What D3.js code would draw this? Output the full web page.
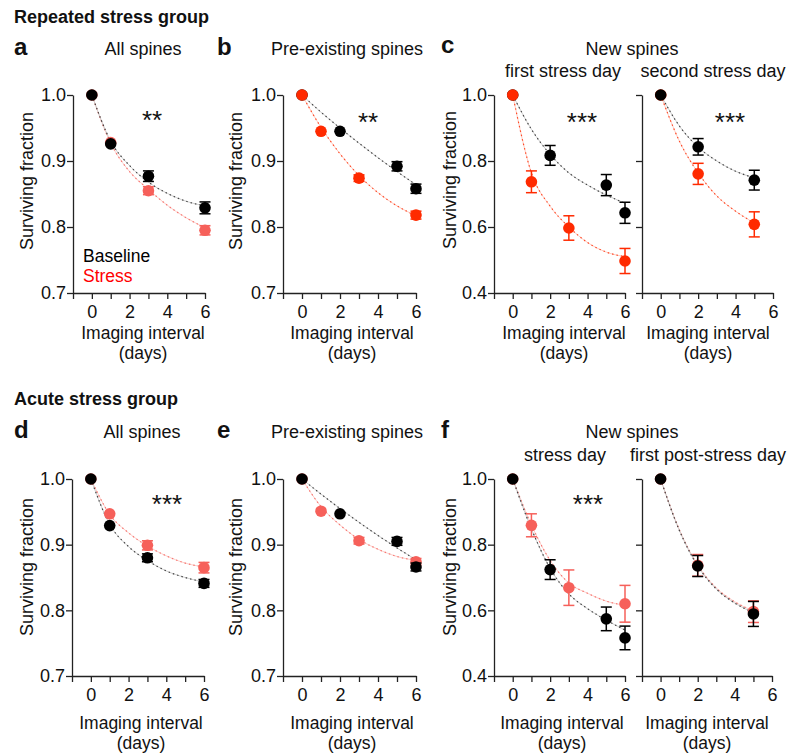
<!DOCTYPE html>
<html><head><meta charset="utf-8">
<script src="https://cdn.jsdelivr.net/npm/d3@7"></script>
<style>html,body{margin:0;padding:0;background:#fff}svg{display:block}text{font-family:"Liberation Sans",Arial,sans-serif}</style>
</head><body><svg id="chart" width="790" height="756"></svg>
<script>
// ---------- DATA ----------
const fitDays6 = [0,1,2,3,4,5,6];
const fitDays5 = [0,1,2,3,4,5];
const xTickValues = [-1,0,1,2,3,4,5,6];
const xTickLabels = [0,2,4,6];
const yTicksAll = [0.7,0.8,0.9,1.0];
const yTicksNew = [0.4,0.6,0.8,1.0];
const legendLabels = ["Baseline","Stress"];

// a: repeated, all spines
const a_base_days = [0,1,3,6];     const a_base = [1.0,0.926,0.877,0.829];   const a_base_err = [0,0.004,0.008,0.009];
const a_stress_days = [0,1,3,6];   const a_stress = [1.0,0.928,0.855,0.795]; const a_stress_err = [0,0.004,0.006,0.007];
const a_base_fit = [1.0,0.930,0.893,0.868,0.851,0.839,0.832];
const a_stress_fit = [1.0,0.927,0.884,0.857,0.833,0.814,0.799];
// b: repeated, pre-existing
const b_base_days = [0,2,5,6];     const b_base = [1.0,0.945,0.892,0.858];   const b_base_err = [0,0.003,0.007,0.007];
const b_stress_days = [0,1,3,6];   const b_stress = [1.0,0.945,0.874,0.818]; const b_stress_err = [0,0.003,0.005,0.006];
const b_base_fit = [1.0,0.974,0.950,0.927,0.905,0.884,0.864];
const b_stress_fit = [1.0,0.951,0.911,0.878,0.852,0.832,0.817];
// c: repeated, new spines first stress day
const c1_base_days = [0,2,5,6];    const c1_base = [1.0,0.817,0.727,0.643];   const c1_base_err = [0,0.030,0.032,0.032];
const c1_stress_days = [0,1,3,6];  const c1_stress = [1.0,0.737,0.597,0.497]; const c1_stress_err = [0,0.033,0.037,0.038];
const c1_base_fit = [1.0,0.896,0.820,0.764,0.727,0.697,0.672];
const c1_stress_fit = [1.0,0.764,0.663,0.600,0.553,0.524,0.510];
// c: second stress day
const c2_base_days = [0,2,5];      const c2_base = [1.0,0.843,0.742];   const c2_base_err = [0,0.025,0.030];
const c2_stress_days = [0,2,5];    const c2_stress = [1.0,0.761,0.608]; const c2_stress_err = [0,0.032,0.038];
const c2_base_fit = [1.0,0.906,0.842,0.800,0.769,0.749];
const c2_stress_fit = [1.0,0.860,0.764,0.694,0.648,0.612];
// d: acute, all spines
const d_base_days = [0,1,3,6];     const d_base = [1.0,0.929,0.880,0.841];   const d_base_err = [0,0.003,0.006,0.006];
const d_stress_days = [0,1,3,6];   const d_stress = [1.0,0.947,0.899,0.865]; const d_stress_err = [0,0.003,0.007,0.008];
const d_base_fit = [1.0,0.931,0.897,0.876,0.860,0.850,0.843];
const d_stress_fit = [1.0,0.946,0.918,0.898,0.883,0.872,0.866];
// e: acute, pre-existing
const e_base_days = [0,2,5,6];     const e_base = [1.0,0.947,0.905,0.866];   const e_base_err = [0,0.003,0.006,0.006];
const e_stress_days = [0,1,3,6];   const e_stress = [1.0,0.951,0.906,0.874]; const e_stress_err = [0,0.003,0.005,0.005];
const e_base_fit = [1.0,0.977,0.955,0.934,0.914,0.895,0.877];
const e_stress_fit = [1.0,0.958,0.930,0.908,0.893,0.882,0.876];
// f: acute, new spines stress day
const f1_base_days = [0,2,5,6];    const f1_base = [1.0,0.724,0.574,0.516];   const f1_base_err = [0,0.030,0.036,0.036];
const f1_stress_days = [0,1,3,6];  const f1_stress = [1.0,0.859,0.669,0.620]; const f1_stress_err = [0,0.035,0.054,0.056];
const f1_base_fit = [1.0,0.848,0.728,0.650,0.605,0.570,0.540];
const f1_stress_fit = [1.0,0.860,0.752,0.683,0.652,0.628,0.615];
// f: first post-stress day
const f2_base_days = [0,2,5];      const f2_base = [1.0,0.735,0.589];   const f2_base_err = [0,0.032,0.038];
const f2_stress_days = [0,2,5];    const f2_stress = [1.0,0.737,0.596]; const f2_stress_err = [0,0.033,0.033];
const f2_base_fit = [1.0,0.845,0.735,0.665,0.622,0.593];
const f2_stress_fit = [1.0,0.847,0.738,0.668,0.626,0.598];

// ---------- DRAW ----------
const svg = d3.select("#chart");
svg.append("rect").attr("width",790).attr("height",756).attr("fill","#fff");
const FONT = 18;
const AXC = "#222";
const SALMON = "#f6605a", RED = "#ff2a00";

function txt(x,y,s,opt={}){
  const t = svg.append("text").attr("x",x).attr("y",y).text(s)
    .attr("font-size",opt.size||FONT).attr("fill",opt.fill||"#111")
    .attr("text-anchor",opt.anchor||"start");
  if(opt.bold) t.attr("font-weight","bold");
  if(opt.rotate) t.attr("transform",`rotate(-90,${x},${y})`);
  return t;
}

function pack(days, vals, errs){ return days.map((d,i)=>({d, v:vals[i], e:errs[i]})); }

function panel(cfg){
  const x = d3.scaleLinear().domain([-1,6]).range([cfg.x0,cfg.x1]);
  const y = d3.scaleLinear().domain(cfg.yDomain).range([cfg.yBot,cfg.yTop]);
  const g = svg.append("g");
  const ya = d3.axisLeft(y).tickValues(cfg.yTicks).tickSize(6).tickSizeOuter(0).tickPadding(1)
    .tickFormat(cfg.yLabels ? d3.format(".1f") : "");
  const yg = g.append("g").attr("transform",`translate(${cfg.x0},0)`).call(ya);
  const xa = d3.axisBottom(x).tickValues(xTickValues).tickSize(6).tickSizeOuter(0).tickPadding(6)
    .tickFormat(d => xTickLabels.includes(d) ? d : "");
  const xg = g.append("g").attr("transform",`translate(0,${cfg.yBot})`).call(xa);
  [yg,xg].forEach(a=>{
    a.selectAll("path,line").attr("stroke",AXC).attr("stroke-width",1.3);
    a.selectAll("text").attr("font-size",FONT).attr("fill","#111")
      .attr("font-family",'"Liberation Sans",Arial,sans-serif');
  });
  const line = d3.line().x(p=>x(p[0])).y(p=>y(p[1])).curve(d3.curveMonotoneX);
  const drawOrder = cfg.stressOnTop ? ["base","stress"] : ["stress","base"];
  const S = {
    base: {pts: cfg.base, fit: cfg.baseFit, col:"#000", light:"#c8c8c8", dash:"#222"},
    stress: {pts: cfg.stress, fit: cfg.stressFit, col: cfg.sColor, light: cfg.sColor===RED?"#ffc4b8":"#fcc8c4", dash: cfg.sColor}
  };
  drawOrder.forEach(k=>{
    const s = S[k];
    const pts = cfg.fitDays.map((d,i)=>[d,s.fit[i]]);
    g.append("path").attr("d",line(pts)).attr("fill","none").attr("stroke",s.light).attr("stroke-width",0.9);
    g.append("path").attr("d",line(pts)).attr("fill","none").attr("stroke",s.dash).attr("stroke-width",1.2)
      .attr("stroke-dasharray","1.5,3").attr("opacity",0.8);
  });
  drawOrder.forEach(k=>{
    const s = S[k];
    const eg = g.append("g").attr("stroke",s.col).attr("stroke-width",1.5);
    s.pts.filter(p=>p.e>0.004).forEach(p=>{
      const cx = x(p.d);
      eg.append("line").attr("x1",cx).attr("x2",cx).attr("y1",y(p.v-p.e)).attr("y2",y(p.v+p.e));
      [p.v-p.e,p.v+p.e].forEach(v=>eg.append("line").attr("x1",cx-5.5).attr("x2",cx+5.5).attr("y1",y(v)).attr("y2",y(v)));
    });
    g.append("g").selectAll("circle").data(s.pts).join("circle")
      .attr("cx",p=>x(p.d)).attr("cy",p=>y(p.v)).attr("r",5.8).attr("fill",s.col);
  });
  return {x,y};
}

txt(14,23,"Repeated stress group",{bold:true,size:18});
txt(14,405,"Acute stress group",{bold:true,size:18});

const T = {yTop:95, yBot:293}, B = {yTop:479, yBot:676};
const colA = {x0:73,x1:205}, colB = {x0:283,x1:416}, colC1 = {x0:494,x1:625}, colC2 = {x0:642,x1:773};

function sTitle(letter,lx,ly){ txt(lx,ly,letter,{bold:true,size:24}); }
function yLabel(x,cy){ txt(x,cy,"Surviving fraction",{rotate:true,anchor:"middle"}); }
function xLabel(cx,y){
  txt(cx,y,"Imaging interval",{anchor:"middle",size:17.5});
  txt(cx,y+20,"(days)",{anchor:"middle",size:17.5});
}
function stars(cx,top,s){ txt(cx,top+17,s,{anchor:"middle",size:26}); }

// ---- a
panel({...colA,...T,yDomain:[0.7,1.0],yTicks:yTicksAll,yLabels:true,fitDays:fitDays6,
  base:pack(a_base_days,a_base,a_base_err),stress:pack(a_stress_days,a_stress,a_stress_err),
  baseFit:a_base_fit,stressFit:a_stress_fit,sColor:SALMON,stressOnTop:false});
sTitle("a",14,55); txt(143,55,"All spines",{anchor:"middle"});
yLabel(33,181); xLabel(143,339); stars(152,112,"**");
txt(83,262,legendLabels[0],{fill:"#000",size:17.5}); txt(83,282,legendLabels[1],{fill:"#ff0000",size:17.5});

// ---- b
panel({...colB,...T,yDomain:[0.7,1.0],yTicks:yTicksAll,yLabels:true,fitDays:fitDays6,
  base:pack(b_base_days,b_base,b_base_err),stress:pack(b_stress_days,b_stress,b_stress_err),
  baseFit:b_base_fit,stressFit:b_stress_fit,sColor:RED,stressOnTop:true});
sTitle("b",217,55); txt(347,55,"Pre-existing spines",{anchor:"middle"});
yLabel(242,181); xLabel(352,339); stars(368,114,"**");

// ---- c
panel({...colC1,...T,yDomain:[0.4,1.0],yTicks:yTicksNew,yLabels:true,fitDays:fitDays6,
  base:pack(c1_base_days,c1_base,c1_base_err),stress:pack(c1_stress_days,c1_stress,c1_stress_err),
  baseFit:c1_base_fit,stressFit:c1_stress_fit,sColor:RED,stressOnTop:true});
panel({...colC2,...T,yDomain:[0.4,1.0],yTicks:yTicksNew,yLabels:false,fitDays:fitDays5,
  base:pack(c2_base_days,c2_base,c2_base_err),stress:pack(c2_stress_days,c2_stress,c2_stress_err),
  baseFit:c2_base_fit,stressFit:c2_stress_fit,sColor:RED,stressOnTop:false});
sTitle("c",441,53); txt(632,55,"New spines",{anchor:"middle"});
txt(563,77,"first stress day",{anchor:"middle"}); txt(713,77,"second stress day",{anchor:"middle"});
yLabel(456,180); xLabel(564,339); xLabel(708,339);
stars(582,114,"***"); stars(730,114,"***");

// ---- d
panel({...colA,x0:72,x1:204,...B,yDomain:[0.7,1.0],yTicks:yTicksAll,yLabels:true,fitDays:fitDays6,
  base:pack(d_base_days,d_base,d_base_err),stress:pack(d_stress_days,d_stress,d_stress_err),
  baseFit:d_base_fit,stressFit:d_stress_fit,sColor:SALMON,stressOnTop:false});
sTitle("d",14,438); txt(142,438,"All spines",{anchor:"middle"});
yLabel(33,567); xLabel(141,729); stars(167,496,"***");

// ---- e
panel({...colB,...B,yDomain:[0.7,1.0],yTicks:yTicksAll,yLabels:true,fitDays:fitDays6,
  base:pack(e_base_days,e_base,e_base_err),stress:pack(e_stress_days,e_stress,e_stress_err),
  baseFit:e_base_fit,stressFit:e_stress_fit,sColor:SALMON,stressOnTop:false});
sTitle("e",217,438); txt(347,438,"Pre-existing spines",{anchor:"middle"});
yLabel(242,567); xLabel(352,729);

// ---- f
panel({...colC1,...B,yDomain:[0.4,1.0],yTicks:yTicksNew,yLabels:true,fitDays:fitDays6,
  base:pack(f1_base_days,f1_base,f1_base_err),stress:pack(f1_stress_days,f1_stress,f1_stress_err),
  baseFit:f1_base_fit,stressFit:f1_stress_fit,sColor:SALMON,stressOnTop:false});
panel({...colC2,x1:772,...B,yDomain:[0.4,1.0],yTicks:yTicksNew,yLabels:false,fitDays:fitDays5,
  base:pack(f2_base_days,f2_base,f2_base_err),stress:pack(f2_stress_days,f2_stress,f2_stress_err),
  baseFit:f2_base_fit,stressFit:f2_stress_fit,sColor:SALMON,stressOnTop:false});
sTitle("f",441,438); txt(632,438,"New spines",{anchor:"middle"});
txt(565,461,"stress day",{anchor:"middle"}); txt(708,461,"first post-stress day",{anchor:"middle"});
yLabel(456,567); xLabel(562,729); xLabel(707,729);
stars(588,496,"***");
</script></body></html>
